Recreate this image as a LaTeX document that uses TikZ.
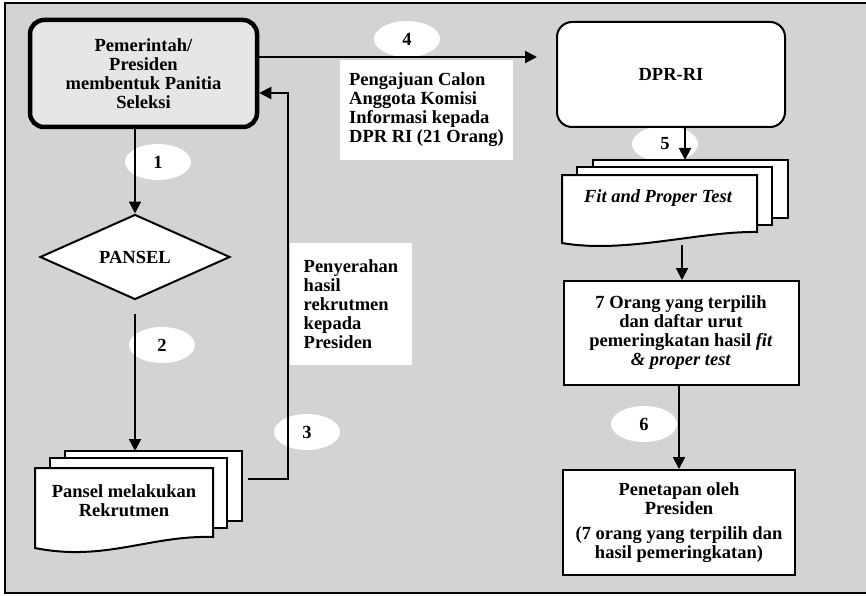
\documentclass[tikz,border=0pt]{standalone}
\usepackage{fontspec}
\setmainfont{Liberation Serif}
\usetikzlibrary{arrows.meta}
\usetikzlibrary{shapes.geometric}
\definecolor{panelgray}{HTML}{D3D3D3}
\definecolor{govgray}{HTML}{E6E6E6}

\begin{document}
\begin{tikzpicture}[x=1pt,y=-1pt,>={Triangle[length=12pt,width=12pt]},line width=2pt,
  main node/.style={rectangle,draw,fill=white,align=center,inner sep=0pt,font=\fontsize{18.5}{19}\selectfont\bfseries},
  num node/.style={ellipse,fill=white,minimum width=66pt,minimum height=36pt,inner sep=0pt,font=\fontsize{18.5}{19}\selectfont\bfseries},
  note node/.style={rectangle,fill=white,align=left,inner sep=0pt,font=\fontsize{18.5}{19}\selectfont\bfseries},
  doc node/.style={align=center,inner sep=0pt,font=\fontsize{18.5}{19}\selectfont\bfseries},
  sheet/.style={draw,fill=white,line width=2pt}]

  \useasboundingbox (0,0) rectangle (866,596);
  \fill[white] (0,0) rectangle (866,596);
  \draw[fill=panelgray] (5,3) rectangle (872,593);

  % step numbers
  \foreach \n/\x/\y in {1/158/162,2/162/345,3/307/432,4/407/39,5/665/144,6/644/424}{
  \node[num node] (n\n) at (\x,\y) {\n};
}

  % labels on the arrows
  \node[note node,minimum width=173pt,minimum height=100pt] (aju) at (426.5,110)
    {Pengajuan Calon\\Anggota Komisi\\Informasi kepada\\DPR RI (21 Orang)};
  \node[note node,minimum width=122pt,minimum height=122pt] (serah) at (351,304)
    {Penyerahan\\hasil\\rekrutmen\\kepada\\Presiden};

  % left column
  \node[main node,rounded corners=14pt,line width=4.5pt,fill=govgray,minimum width=227pt,minimum height=107pt] (gov) at (143.5,73.5)
    {Pemerintah/\\Presiden\\membentuk Panitia\\Seleksi};
  \node[diamond,draw,fill=white,inner sep=0pt,minimum width=190pt,minimum height=85pt,font=\fontsize{18.5}{19}\selectfont\bfseries] (pansel) at (135,257) {PANSEL};

  \draw[sheet] (65,451) rectangle (242,521);
  \draw[sheet] (50,458) rectangle (227,528);
  \draw[sheet] (35,468) -- (213,468) -- (213,537) .. controls (150,535) and (105,562) .. (35,548) -- cycle;
  \node[doc node] (rekrut) at (124,501) {Pansel melakukan\\Rekrutmen};
  \coordinate (rekrut top) at (135,451);
  \coordinate (rekrut east) at (248,479);
  \coordinate (turn) at (288,479);

  % right column
  \node[main node,rounded corners=15pt,minimum width=228pt,minimum height=105pt] (dpr) at (671,74.5) {DPR-RI};

  \draw[sheet] (593,160) rectangle (788,218);
  \draw[sheet] (577,167) rectangle (772,225);
  \draw[sheet] (562,175) -- (757,175) -- (757,232) .. controls (700,231) and (625,254) .. (562,243) -- cycle;
  \node[doc node,font=\fontsize{18.5}{19}\selectfont\bfseries\itshape] (fit) at (658,198) {Fit and Proper Test};
  \coordinate (fit top) at (685,160);
  \coordinate (fit bottom) at (682,245);

  \node[main node,minimum width=235pt,minimum height=104pt] (pilih) at (681,333)
    {7 Orang yang terpilih\\dan daftar urut\\pemeringkatan hasil \textit{fit}\\\textit{\& proper test}};
  \node[main node,minimum width=232pt,minimum height=105pt] (tetap) at (679,522.5)
    {Penetapan oleh\\Presiden\\[6pt](7 orang yang terpilih dan\\hasil pemeringkatan)};

  \path[->]
(gov.south -| pansel)	edge (pansel.north)
(pansel.south)	edge [shorten <=13pt] (rekrut top)
([yshift=16.5pt]gov.east)	edge [shorten >=19pt] ([yshift=16.5pt]gov.east -| dpr.west)
(dpr.south -| fit top)	edge (fit top)
(fit bottom)	edge (fit bottom |- pilih.north)
(pilih.south -| tetap)	edge (tetap.north)
;
  \draw[->] (rekrut east) -- (turn) |- ([yshift=-19.5pt]gov.east);
\end{tikzpicture}
\end{document}
